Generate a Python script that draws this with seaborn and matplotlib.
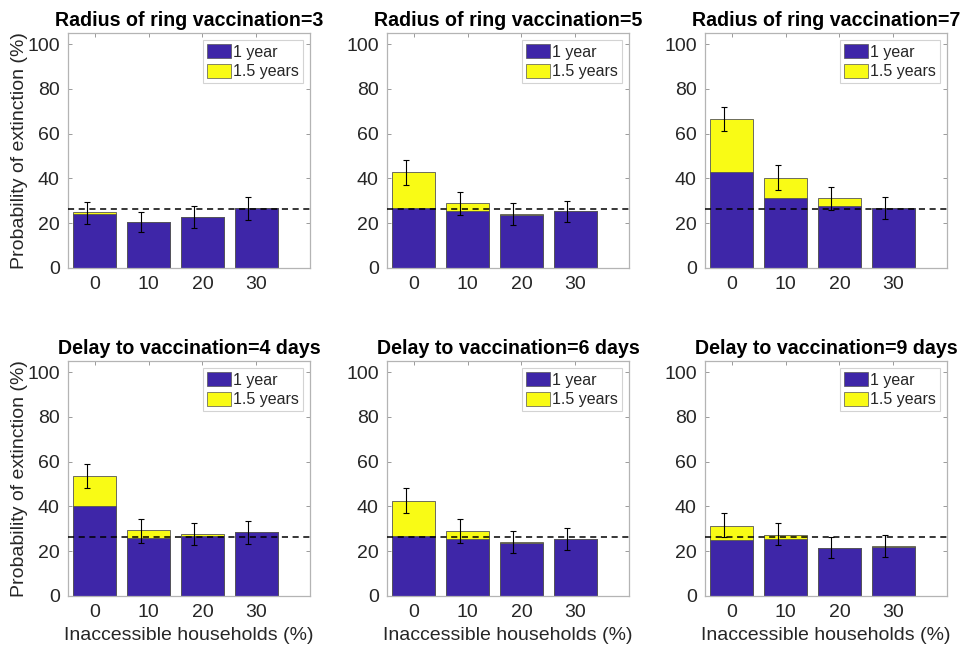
import numpy as np
import pandas as pd
import matplotlib
matplotlib.use("Agg")
import matplotlib.pyplot as plt
from matplotlib.patches import Patch
import seaborn as sns

# Percentage of households that cannot be reached by the vaccination team
households = [0, 10, 20, 30]

titles = [
    "Radius of ring vaccination=3",
    "Radius of ring vaccination=5",
    "Radius of ring vaccination=7",
    "Delay to vaccination=4 days",
    "Delay to vaccination=6 days",
    "Delay to vaccination=9 days",
]

# Probability of extinction (%) after 1 year
ext_1yr_r3 = [24.0, 20.6, 22.8, 26.6]
ext_1yr_r5 = [26.6, 25.4, 23.6, 25.4]
ext_1yr_r7 = [43.1, 31.3, 27.5, 26.9]
ext_1yr_d4 = [40.4, 25.9, 27.0, 28.5]
ext_1yr_d6 = [26.6, 25.4, 23.9, 25.4]
ext_1yr_d9 = [25.0, 25.4, 21.5, 21.8]

# Probability of extinction (%) after 1.5 years
ext_15yr_r3 = [25.2, 20.6, 22.8, 26.6]
ext_15yr_r5 = [42.7, 29.1, 24.0, 25.4]
ext_15yr_r7 = [66.7, 40.3, 31.3, 26.9]
ext_15yr_d4 = [53.6, 29.3, 27.5, 28.5]
ext_15yr_d6 = [42.6, 29.1, 24.2, 25.4]
ext_15yr_d9 = [31.5, 27.3, 21.5, 22.3]

# Confidence intervals (%)
ci_low_r3 = [19.7, 16.1, 17.9, 21.5]
ci_high_r3 = [29.6, 25.2, 27.6, 31.6]
ci_low_r5 = [37.0, 23.9, 19.1, 20.4]
ci_high_r5 = [48.2, 34.0, 29.0, 30.1]
ci_low_r7 = [61.2, 34.8, 26.0, 21.9]
ci_high_r7 = [71.9, 46.0, 36.4, 31.9]
ci_low_d4 = [48.3, 23.9, 22.6, 23.3]
ci_high_d4 = [59.1, 34.5, 32.7, 33.4]
ci_low_d6 = [37.1, 23.9, 19.0, 20.5]
ci_high_d6 = [48.3, 34.2, 29.0, 30.5]
ci_low_d9 = [26.4, 22.6, 16.9, 17.5]
ci_high_d9 = [37.0, 32.8, 26.4, 27.2]

# Extinction probability without any ring vaccination
baseline = 26.5

panels = [
    (ext_1yr_r3, ext_15yr_r3, ci_low_r3, ci_high_r3),
    (ext_1yr_r5, ext_15yr_r5, ci_low_r5, ci_high_r5),
    (ext_1yr_r7, ext_15yr_r7, ci_low_r7, ci_high_r7),
    (ext_1yr_d4, ext_15yr_d4, ci_low_d4, ci_high_d4),
    (ext_1yr_d6, ext_15yr_d6, ci_low_d6, ci_high_d6),
    (ext_1yr_d9, ext_15yr_d9, ci_low_d9, ci_high_d9),
]

BLUE = "#3E26A8"
YELLOW = "#F9FB15"
TEXT = "#262626"
SPINE = "#b4b4b4"

sns.set_theme(style="white")
plt.rcParams["font.family"] = ["Liberation Sans", "DejaVu Sans"]

fig = plt.figure(figsize=(9.62, 6.49), dpi=100)

lefts = [68 / 962, 387 / 962, 705 / 962]
bottoms = [(649 - 268) / 649, (649 - 596) / 649]
w = 242 / 962
h = 235 / 649

for i, (title, (y1, y15, lo, hi)) in enumerate(zip(titles, panels)):
    row, col = divmod(i, 3)
    ax = fig.add_axes([lefts[col], bottoms[row], w, h])
    df = pd.DataFrame({
        "households": households,
        "1 year": y1,
        "1.5 years": y15,
        "lo": lo,
        "hi": hi,
    })
    sns.barplot(data=df, x="households", y="1.5 years", color=YELLOW,
                saturation=1, width=0.8, edgecolor="#555555", linewidth=0.6,
                errorbar=None, ax=ax)
    sns.barplot(data=df, x="households", y="1 year", color=BLUE,
                saturation=1, width=0.8, edgecolor="#555555", linewidth=0.6,
                errorbar=None, ax=ax)

    centre = (df["lo"] + df["hi"]) / 2
    half = (df["hi"] - df["lo"]) / 2
    xpos = np.arange(len(households)) - 0.15
    ax.errorbar(xpos, centre, yerr=half, fmt="none", ecolor="black",
                elinewidth=0.8, capsize=2.2, capthick=0.8, zorder=5)

    ax.axhline(baseline, color="black", linestyle=(0, (4, 3)),
               linewidth=1.1, zorder=6)

    ax.set_xlim(-0.5, 4.0)
    ax.set_ylim(0, 105)
    ax.set_yticks([0, 20, 40, 60, 80, 100])
    ax.set_xticks(range(len(households)))
    ax.set_xticklabels([str(v) for v in households])
    ax.tick_params(direction="in", length=3, width=0.6, color="#8a8a8a",
                   labelsize=14, labelcolor=TEXT, top=True, right=True,
                   bottom=True, left=True, pad=6)
    for s in ax.spines.values():
        s.set_color(SPINE)
        s.set_linewidth(0.9)

    ax.set_title(title, fontsize=14.1, fontweight="bold", color="black", pad=5)
    ax.set_xlabel("Inaccessible households (%)" if row == 1 else "",
                  fontsize=14, color=TEXT, labelpad=4)
    ax.set_ylabel("Probability of extinction (%)" if col == 0 else "",
                  fontsize=14, color=TEXT, labelpad=-1)

    handles = [Patch(facecolor=BLUE, edgecolor="#555555", linewidth=0.5),
               Patch(facecolor=YELLOW, edgecolor="#555555", linewidth=0.5)]
    leg = ax.legend(handles, ["1 year", "1.5 years"], loc="upper right",
                    fontsize=11.5, frameon=True, fancybox=False,
                    borderpad=0.25, labelspacing=0.25, handlelength=1.5,
                    handleheight=1.0, handletextpad=0.15, borderaxespad=0.45)
    leg.get_frame().set_edgecolor("#c8c8c8")
    leg.get_frame().set_linewidth(0.8)
    for t in leg.get_texts():
        t.set_color(TEXT)

fig.savefig("out.png", dpi=100, facecolor="white")
